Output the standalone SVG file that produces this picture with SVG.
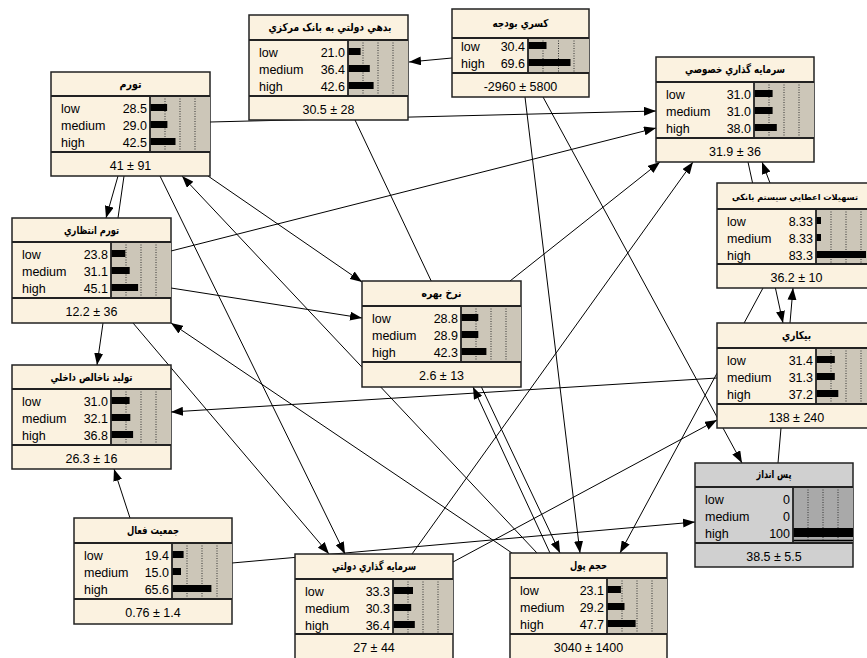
<svg xmlns="http://www.w3.org/2000/svg" width="867" height="658" viewBox="0 0 867 658">
<defs>
<marker id="ah" markerWidth="12" markerHeight="9" refX="12" refY="4.5" orient="auto" markerUnits="userSpaceOnUse"><path d="M0,0 L12,4.5 L0,9 z" fill="#000"/></marker>
<style>
.box{fill:#fbf2e0;stroke:#222;stroke-width:1.5}
.gbox{fill:#d0d0d0;stroke:#222;stroke-width:1.5}
.ba{fill:#ccc6b8}
.gba{fill:#a9a9a9}
.sep{stroke:#222;stroke-width:1.8}
.dot{stroke:#333;stroke-width:1;stroke-dasharray:1,1.5}
.bar{fill:#000}
.ttl{font-family:"DejaVu Sans",sans-serif;font-weight:bold;font-size:11px;text-anchor:middle;fill:#000}
.lbl{font-family:"Liberation Sans",Arial,sans-serif;font-size:12.5px;fill:#000}
.val{font-family:"Liberation Sans",Arial,sans-serif;font-size:12.5px;text-anchor:end;fill:#000}
.ftr{font-family:"Liberation Sans",Arial,sans-serif;font-size:12.5px;text-anchor:middle;fill:#000}
.ea{stroke:#000;stroke-width:1;fill:none;marker-end:url(#ah)}
</style>
</defs>
<rect width="867" height="658" fill="#fff"/>
<g id="connectors">
<line class="ea" x1="452" y1="58" x2="409" y2="62"/>
<line class="ea" x1="210" y1="122" x2="656" y2="111"/>
<line class="ea" x1="171" y1="251" x2="656" y2="128"/>
<line class="ea" x1="118" y1="176" x2="106" y2="218"/>
<line class="ea" x1="124" y1="176" x2="97" y2="365"/>
<line class="ea" x1="171" y1="288" x2="362" y2="318"/>
<line class="ea" x1="717" y1="378" x2="171" y2="412"/>
<line class="ea" x1="130" y1="518" x2="114" y2="469"/>
<line class="ea" x1="232" y1="563" x2="695" y2="522"/>
<line class="ea" x1="160" y1="176" x2="345" y2="554"/>
<line class="ea" x1="133" y1="323" x2="329" y2="554"/>
<line class="ea" x1="208" y1="176" x2="362" y2="282"/>
<line class="ea" x1="355" y1="120" x2="560" y2="553"/>
<line class="ea" x1="525" y1="97" x2="580" y2="553"/>
<line class="ea" x1="543" y1="97" x2="742" y2="463"/>
<line class="ea" x1="748" y1="162" x2="783" y2="323"/>
<line class="ea" x1="770" y1="183" x2="762" y2="162"/>
<line class="ea" x1="778" y1="463" x2="793" y2="288"/>
<line class="ea" x1="763" y1="288" x2="620" y2="553"/>
<line class="ea" x1="510" y1="281" x2="660" y2="162"/>
<line class="ea" x1="412" y1="554" x2="693" y2="162"/>
<line class="ea" x1="453" y1="562" x2="717" y2="420"/>
<line class="ea" x1="512" y1="553" x2="171" y2="323"/>
<line class="ea" x1="537" y1="553" x2="182" y2="176"/>
<line class="ea" x1="550" y1="553" x2="473" y2="387"/>
</g>

<g id="tavarom">
<rect class="box" x="51" y="72" width="159" height="104"/>
<rect class="ba" x="150" y="96" width="60" height="56"/>
<line class="dot" x1="165" y1="96" x2="165" y2="152"/><line class="dot" x1="180" y1="96" x2="180" y2="152"/><line class="dot" x1="195" y1="96" x2="195" y2="152"/>
<rect class="bar" x="150" y="104" width="17.1" height="7"/><rect class="bar" x="150" y="121" width="17.4" height="7"/><rect class="bar" x="150" y="138" width="25.5" height="7"/>
<line class="sep" x1="51" y1="96" x2="210" y2="96"/><line class="sep" x1="51" y1="152" x2="210" y2="152"/><line class="sep" x1="150" y1="96" x2="150" y2="152"/>
<text class="ttl" x="130.5" y="88" textLength="22" lengthAdjust="spacingAndGlyphs">تورم</text>
<text class="lbl" x="61" y="113">low</text><text class="lbl" x="61" y="130">medium</text><text class="lbl" x="61" y="147">high</text>
<text class="val" x="147" y="113">28.5</text><text class="val" x="147" y="130">29.0</text><text class="val" x="147" y="147">42.5</text>
<text class="ftr" x="130.5" y="170">41 ± 91</text>
</g>

<g id="bedehi">
<rect class="box" x="249" y="15" width="159" height="105"/>
<rect class="ba" x="348" y="40" width="60" height="56"/>
<line class="dot" x1="363" y1="40" x2="363" y2="96"/><line class="dot" x1="378" y1="40" x2="378" y2="96"/><line class="dot" x1="393" y1="40" x2="393" y2="96"/>
<rect class="bar" x="348" y="48" width="12.6" height="7"/><rect class="bar" x="348" y="65" width="21.8" height="7"/><rect class="bar" x="348" y="82" width="25.6" height="7"/>
<line class="sep" x1="249" y1="40" x2="408" y2="40"/><line class="sep" x1="249" y1="96" x2="408" y2="96"/><line class="sep" x1="348" y1="40" x2="348" y2="96"/>
<text class="ttl" x="330" y="31" textLength="123" lengthAdjust="spacingAndGlyphs">بدهي دولتي به بانک مرکزي</text>
<text class="lbl" x="259" y="57">low</text><text class="lbl" x="259" y="74">medium</text><text class="lbl" x="259" y="91">high</text>
<text class="val" x="345" y="57">21.0</text><text class="val" x="345" y="74">36.4</text><text class="val" x="345" y="91">42.6</text>
<text class="ftr" x="328.5" y="114">30.5 ± 28</text>
</g>

<g id="kasri">
<rect class="box" x="452" y="9" width="137" height="88"/>
<rect class="ba" x="528" y="38" width="61" height="35"/>
<line class="dot" x1="543" y1="38" x2="543" y2="73"/><line class="dot" x1="558.5" y1="38" x2="558.5" y2="73"/><line class="dot" x1="574" y1="38" x2="574" y2="73"/>
<rect class="bar" x="528" y="42" width="18.5" height="7"/><rect class="bar" x="528" y="59" width="42.5" height="7"/>
<line class="sep" x1="452" y1="38" x2="589" y2="38"/><line class="sep" x1="452" y1="73" x2="589" y2="73"/><line class="sep" x1="528" y1="38" x2="528" y2="73"/>
<text class="ttl" x="520.5" y="27" textLength="56" lengthAdjust="spacingAndGlyphs">کسري بودجه</text>
<text class="lbl" x="461" y="51">low</text><text class="lbl" x="461" y="68">high</text>
<text class="val" x="525" y="51">30.4</text><text class="val" x="525" y="68">69.6</text>
<text class="ftr" x="520.5" y="91">-2960 ± 5800</text>
</g>

<g id="khosusi">
<rect class="box" x="656" y="57" width="158" height="105"/>
<rect class="ba" x="754" y="82" width="60" height="56"/>
<line class="dot" x1="769" y1="82" x2="769" y2="138"/><line class="dot" x1="784" y1="82" x2="784" y2="138"/><line class="dot" x1="799" y1="82" x2="799" y2="138"/>
<rect class="bar" x="754" y="90" width="18.6" height="7"/><rect class="bar" x="754" y="107" width="18.6" height="7"/><rect class="bar" x="754" y="124" width="22.8" height="7"/>
<line class="sep" x1="656" y1="82" x2="814" y2="82"/><line class="sep" x1="656" y1="138" x2="814" y2="138"/><line class="sep" x1="754" y1="82" x2="754" y2="138"/>
<text class="ttl" x="735" y="73" textLength="100" lengthAdjust="spacingAndGlyphs">سرمايه گذاري خصوصي</text>
<text class="lbl" x="666" y="99">low</text><text class="lbl" x="666" y="116">medium</text><text class="lbl" x="666" y="133">high</text>
<text class="val" x="751" y="99">31.0</text><text class="val" x="751" y="116">31.0</text><text class="val" x="751" y="133">38.0</text>
<text class="ftr" x="735" y="156">31.9 ± 36</text>
</g>

<g id="tashilat">
<rect class="box" x="717" y="183" width="159" height="105"/>
<rect class="ba" x="816" y="209" width="60" height="55"/>
<line class="dot" x1="831" y1="209" x2="831" y2="264"/><line class="dot" x1="846" y1="209" x2="846" y2="264"/><line class="dot" x1="861" y1="209" x2="861" y2="264"/>
<rect class="bar" x="816" y="217" width="5" height="7"/><rect class="bar" x="816" y="234" width="5" height="7"/><rect class="bar" x="816" y="251" width="50" height="7"/>
<line class="sep" x1="717" y1="209" x2="876" y2="209"/><line class="sep" x1="717" y1="264" x2="876" y2="264"/><line class="sep" x1="816" y1="209" x2="816" y2="264"/>
<text class="ttl" x="795" y="200" style="font-size:8.5px" textLength="126" lengthAdjust="spacingAndGlyphs">تسهيلات اعطايي سيستم بانكي</text>
<text class="lbl" x="727" y="226">low</text><text class="lbl" x="727" y="243">medium</text><text class="lbl" x="727" y="260">high</text>
<text class="val" x="813" y="226">8.33</text><text class="val" x="813" y="243">8.33</text><text class="val" x="813" y="260">83.3</text>
<text class="ftr" x="796.5" y="282">36.2 ± 10</text>
</g>

<g id="entezari">
<rect class="box" x="12" y="218" width="159" height="105"/>
<rect class="ba" x="111" y="242" width="60" height="56"/>
<line class="dot" x1="126" y1="242" x2="126" y2="298"/><line class="dot" x1="141" y1="242" x2="141" y2="298"/><line class="dot" x1="156" y1="242" x2="156" y2="298"/>
<rect class="bar" x="111" y="250" width="14.3" height="7"/><rect class="bar" x="111" y="267" width="18.7" height="7"/><rect class="bar" x="111" y="284" width="27.1" height="7"/>
<line class="sep" x1="12" y1="242" x2="171" y2="242"/><line class="sep" x1="12" y1="298" x2="171" y2="298"/><line class="sep" x1="111" y1="242" x2="111" y2="298"/>
<text class="ttl" x="91.5" y="234" textLength="55" lengthAdjust="spacingAndGlyphs">تورم انتظاري</text>
<text class="lbl" x="22" y="259">low</text><text class="lbl" x="22" y="276">medium</text><text class="lbl" x="22" y="293">high</text>
<text class="val" x="108" y="259">23.8</text><text class="val" x="108" y="276">31.1</text><text class="val" x="108" y="293">45.1</text>
<text class="ftr" x="91.5" y="316">12.2 ± 36</text>
</g>

<g id="tolid">
<rect class="box" x="12" y="365" width="159" height="104"/>
<rect class="ba" x="111" y="389" width="60" height="56"/>
<line class="dot" x1="126" y1="389" x2="126" y2="445"/><line class="dot" x1="141" y1="389" x2="141" y2="445"/><line class="dot" x1="156" y1="389" x2="156" y2="445"/>
<rect class="bar" x="111" y="397" width="18.6" height="7"/><rect class="bar" x="111" y="414" width="19.3" height="7"/><rect class="bar" x="111" y="431" width="22.1" height="7"/>
<line class="sep" x1="12" y1="389" x2="171" y2="389"/><line class="sep" x1="12" y1="445" x2="171" y2="445"/><line class="sep" x1="111" y1="389" x2="111" y2="445"/>
<text class="ttl" x="91.5" y="381" textLength="82" lengthAdjust="spacingAndGlyphs">توليد ناخالص داخلي</text>
<text class="lbl" x="22" y="406">low</text><text class="lbl" x="22" y="423">medium</text><text class="lbl" x="22" y="440">high</text>
<text class="val" x="108" y="406">31.0</text><text class="val" x="108" y="423">32.1</text><text class="val" x="108" y="440">36.8</text>
<text class="ftr" x="91.5" y="463">26.3 ± 16</text>
</g>

<g id="nerkh">
<rect class="box" x="362" y="281" width="159" height="106"/>
<rect class="ba" x="461" y="306" width="60" height="56"/>
<line class="dot" x1="476" y1="306" x2="476" y2="362"/><line class="dot" x1="491" y1="306" x2="491" y2="362"/><line class="dot" x1="506" y1="306" x2="506" y2="362"/>
<rect class="bar" x="461" y="314" width="17.3" height="7"/><rect class="bar" x="461" y="331" width="17.3" height="7"/><rect class="bar" x="461" y="348" width="25.4" height="7"/>
<line class="sep" x1="362" y1="306" x2="521" y2="306"/><line class="sep" x1="362" y1="362" x2="521" y2="362"/><line class="sep" x1="461" y1="306" x2="461" y2="362"/>
<text class="ttl" x="441.5" y="297" textLength="40" lengthAdjust="spacingAndGlyphs">نرخ بهره</text>
<text class="lbl" x="372" y="323">low</text><text class="lbl" x="372" y="340">medium</text><text class="lbl" x="372" y="357">high</text>
<text class="val" x="458" y="323">28.8</text><text class="val" x="458" y="340">28.9</text><text class="val" x="458" y="357">42.3</text>
<text class="ftr" x="441.5" y="380">2.6 ± 13</text>
</g>

<g id="bikari">
<rect class="box" x="717" y="323" width="159" height="105"/>
<rect class="ba" x="816" y="348" width="60" height="56"/>
<line class="dot" x1="831" y1="348" x2="831" y2="404"/><line class="dot" x1="846" y1="348" x2="846" y2="404"/><line class="dot" x1="861" y1="348" x2="861" y2="404"/>
<rect class="bar" x="816" y="356" width="18.8" height="7"/><rect class="bar" x="816" y="373" width="18.8" height="7"/><rect class="bar" x="816" y="390" width="22.3" height="7"/>
<line class="sep" x1="717" y1="348" x2="876" y2="348"/><line class="sep" x1="717" y1="404" x2="876" y2="404"/><line class="sep" x1="816" y1="348" x2="816" y2="404"/>
<text class="ttl" x="796.5" y="339" textLength="29" lengthAdjust="spacingAndGlyphs">بيكاري</text>
<text class="lbl" x="727" y="365">low</text><text class="lbl" x="727" y="382">medium</text><text class="lbl" x="727" y="399">high</text>
<text class="val" x="813" y="365">31.4</text><text class="val" x="813" y="382">31.3</text><text class="val" x="813" y="399">37.2</text>
<text class="ftr" x="796.5" y="422">138 ± 240</text>
</g>

<g id="pasandaz">
<rect class="gbox" x="695" y="463" width="158" height="104"/>
<rect class="gba" x="793" y="487" width="60" height="56"/>
<line class="dot" x1="808" y1="487" x2="808" y2="543"/><line class="dot" x1="823" y1="487" x2="823" y2="543"/><line class="dot" x1="838" y1="487" x2="838" y2="543"/>
<rect class="bar" x="793" y="528" width="60" height="9"/><line x1="793" y1="540.5" x2="853" y2="540.5" stroke="#000" stroke-width="1.5"/>
<line class="sep" x1="695" y1="487" x2="853" y2="487"/><line class="sep" x1="695" y1="543" x2="853" y2="543"/><line class="sep" x1="793" y1="487" x2="793" y2="543"/>
<text class="ttl" x="774" y="478" textLength="35" lengthAdjust="spacingAndGlyphs">پس انداز</text>
<text class="lbl" x="705" y="504">low</text><text class="lbl" x="705" y="521">medium</text><text class="lbl" x="705" y="538">high</text>
<text class="val" x="790" y="504">0</text><text class="val" x="790" y="521">0</text><text class="val" x="790" y="538">100</text>
<text class="ftr" x="774" y="561">38.5 ± 5.5</text>
</g>

<g id="jamiat">
<rect class="box" x="74" y="518" width="158" height="106"/>
<rect class="ba" x="172" y="543" width="60" height="56"/>
<line class="dot" x1="187" y1="543" x2="187" y2="599"/><line class="dot" x1="202" y1="543" x2="202" y2="599"/><line class="dot" x1="217" y1="543" x2="217" y2="599"/>
<rect class="bar" x="172" y="551" width="11.6" height="7"/><rect class="bar" x="172" y="568" width="9" height="7"/><rect class="bar" x="172" y="585" width="39.4" height="7"/>
<line class="sep" x1="74" y1="543" x2="232" y2="543"/><line class="sep" x1="74" y1="599" x2="232" y2="599"/><line class="sep" x1="172" y1="543" x2="172" y2="599"/>
<text class="ttl" x="153" y="534" textLength="52" lengthAdjust="spacingAndGlyphs">جمعيت فعال</text>
<text class="lbl" x="84" y="560">low</text><text class="lbl" x="84" y="577">medium</text><text class="lbl" x="84" y="594">high</text>
<text class="val" x="169" y="560">19.4</text><text class="val" x="169" y="577">15.0</text><text class="val" x="169" y="594">65.6</text>
<text class="ftr" x="153" y="617">0.76 ± 1.4</text>
</g>

<g id="dolati">
<rect class="box" x="295" y="554" width="158" height="106"/>
<rect class="ba" x="393" y="579" width="60" height="55"/>
<line class="dot" x1="408" y1="579" x2="408" y2="634"/><line class="dot" x1="423" y1="579" x2="423" y2="634"/><line class="dot" x1="438" y1="579" x2="438" y2="634"/>
<rect class="bar" x="393" y="587" width="20" height="7"/><rect class="bar" x="393" y="604" width="18.2" height="7"/><rect class="bar" x="393" y="621" width="21.8" height="7"/>
<line class="sep" x1="295" y1="579" x2="453" y2="579"/><line class="sep" x1="295" y1="634" x2="453" y2="634"/><line class="sep" x1="393" y1="579" x2="393" y2="634"/>
<text class="ttl" x="374" y="570" textLength="84" lengthAdjust="spacingAndGlyphs">سرمايه گذاري دولتي</text>
<text class="lbl" x="305" y="596">low</text><text class="lbl" x="305" y="613">medium</text><text class="lbl" x="305" y="630">high</text>
<text class="val" x="390" y="596">33.3</text><text class="val" x="390" y="613">30.3</text><text class="val" x="390" y="630">36.4</text>
<text class="ftr" x="374" y="652">27 ± 44</text>
</g>

<g id="hajm">
<rect class="box" x="510" y="553" width="157" height="107"/>
<rect class="ba" x="607" y="578" width="60" height="56"/>
<line class="dot" x1="622" y1="578" x2="622" y2="634"/><line class="dot" x1="637" y1="578" x2="637" y2="634"/><line class="dot" x1="652" y1="578" x2="652" y2="634"/>
<rect class="bar" x="607" y="586" width="13.9" height="7"/><rect class="bar" x="607" y="603" width="17.5" height="7"/><rect class="bar" x="607" y="620" width="28.6" height="7"/>
<line class="sep" x1="510" y1="578" x2="667" y2="578"/><line class="sep" x1="510" y1="634" x2="667" y2="634"/><line class="sep" x1="607" y1="578" x2="607" y2="634"/>
<text class="ttl" x="588.5" y="569" textLength="37" lengthAdjust="spacingAndGlyphs">حجم پول</text>
<text class="lbl" x="520" y="595">low</text><text class="lbl" x="520" y="612">medium</text><text class="lbl" x="520" y="629">high</text>
<text class="val" x="604" y="595">23.1</text><text class="val" x="604" y="612">29.2</text><text class="val" x="604" y="629">47.7</text>
<text class="ftr" x="588.5" y="652">3040 ± 1400</text>
</g>
</svg>
